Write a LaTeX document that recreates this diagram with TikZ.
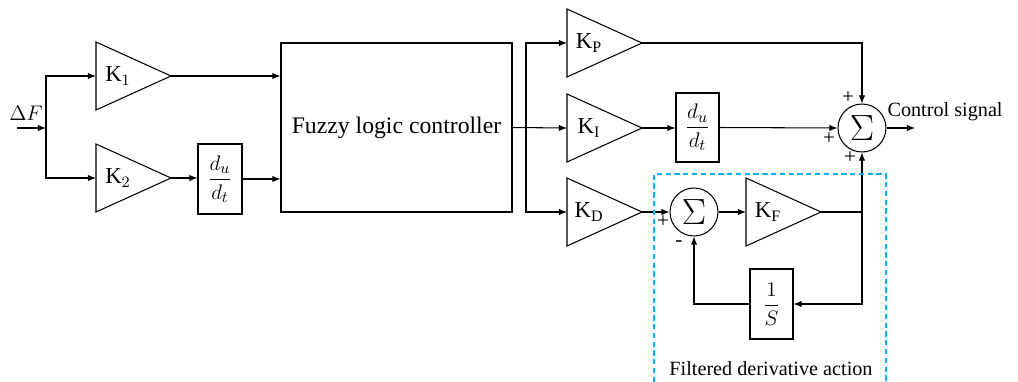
\documentclass[tikz,border=0pt]{standalone}
\usepackage{amsmath}
\usepackage{fontspec}
\setmainfont{Liberation Serif}
\usetikzlibrary{arrows.meta}
\definecolor{dashblue}{RGB}{0,176,240}
\begin{document}
\begin{tikzpicture}[x=0.02cm,y=-0.02cm, line width=0.6pt,
  >={Latex[length=4.6pt,width=3.6pt]},
  blk/.style={draw, fill=white, inner sep=0pt, font=\fontsize{13}{15}\selectfont},
  sumnode/.style={draw, circle, minimum size=0.96cm, inner sep=0pt, font=\fontsize{20}{22}\selectfont},
  klab/.style={font=\fontsize{13}{15}\selectfont, inner sep=0pt},
  sgn/.style={font=\fontsize{12}{14}\selectfont, inner sep=0pt},
  txt/.style={font=\fontsize{11.5}{13}\selectfont, inner sep=0pt},
  tri/.style={draw, line join=miter}]
\useasboundingbox (0,0) rectangle (1018,382);
% gain triangles
\foreach \nm/\x/\y/\lab in {k1/96/76/1, k2/96/178/2, kp/567/43/\mathrm{P}, ki/567/128/\mathrm{I}, kd/567/212/\mathrm{D}, kf/746/212/\mathrm{F}}{
  \draw[tri] (\x,\y-34) -- (\x+75,\y) -- (\x,\y+34) -- cycle;
  \coordinate (\nm-in) at (\x,\y);
  \coordinate (\nm-out) at (\x+75,\y);
  \node[klab] (\nm-lab) at (\x+22,\y) {$\mathrm{K}_{\lab}$};
}
% blocks
\node[blk, minimum width=0.88cm, minimum height=1.4cm] (du1) at (220,179) {$\dfrac{d_u}{d_t}$};
\node[blk, minimum width=4.62cm, minimum height=3.38cm] (fuzzy) at (396.5,127.5) {\fontsize{13.5}{16}\selectfont Fuzzy logic controller};
\node[blk, minimum width=0.86cm, minimum height=1.38cm] (du2) at (697.5,127.5) {$\dfrac{d_u}{d_t}$};
\node[blk, minimum width=0.86cm, minimum height=1.4cm] (invS) at (771.5,304) {$\dfrac{1}{S}$};
\node[sumnode] (sum) at (862,128) {$\Sigma$};
\node[sumnode] (ssum) at (694,212) {$\Sigma$};
% input
\coordinate (in) at (17,128);
\coordinate (j1) at (46,128);
\node[klab] (dF) at (26,113) {$\Delta F$};
\draw[->] (in) -- (j1);
\draw[->] (j1) |- (k1-in);
\draw[->] (j1) |- (k2-in);
\draw[->] (k1-out) -- (fuzzy.west |- k1-out);
\draw[->] (k2-out) -- (du1.west |- k2-out);
\draw[->] (du1.east) -- (fuzzy.west |- du1.east);
% fuzzy output split
\coordinate (j2) at (526,127.5);
\draw[->] (fuzzy.east) -- (ki-in);
\draw[->] (j2) |- (kp-in);
\draw[->] (j2) |- (kd-in);
% PID paths
\draw[->] (kp-out) -| (sum.north);
\draw[->] (ki-out) -- (du2.west |- ki-out);
\draw[->] (du2.east) -- (sum.west);
\coordinate (out) at (915,128);
\draw[->] (sum.east) -- (out);
\node[txt, anchor=west] (cs) at (887,112) {Control signal};
% filtered derivative
\draw[->] (kd-out) -- (ssum.west);
\draw[->] (ssum.east) -- (kf-in);
\coordinate (j3) at (862,212);
\coordinate (j4) at (862,304);
\draw (kf-out) -- (j3);
\draw[->] (j3) -- (sum.south);
\draw[->] (j3) -- (j4) -- (invS.east);
\draw[->] (invS.west) -| (ssum.south);
% signs
\node[sgn] (s1) at (848,98) {+};
\node[sgn] (s2) at (829,139) {+};
\node[sgn] (s3) at (850,158) {+};
\node[sgn] (s4) at (663,222) {+};
\node[sgn] (s5) at (679,244) {-};
% dashed frame
\draw[dashblue, line width=0.7pt, dash pattern=on 3pt off 2pt] (654,382) |- (886,174) -- (886,382);
\node[txt] (fda) at (771,369) {Filtered derivative action};
\end{tikzpicture}
\end{document}
